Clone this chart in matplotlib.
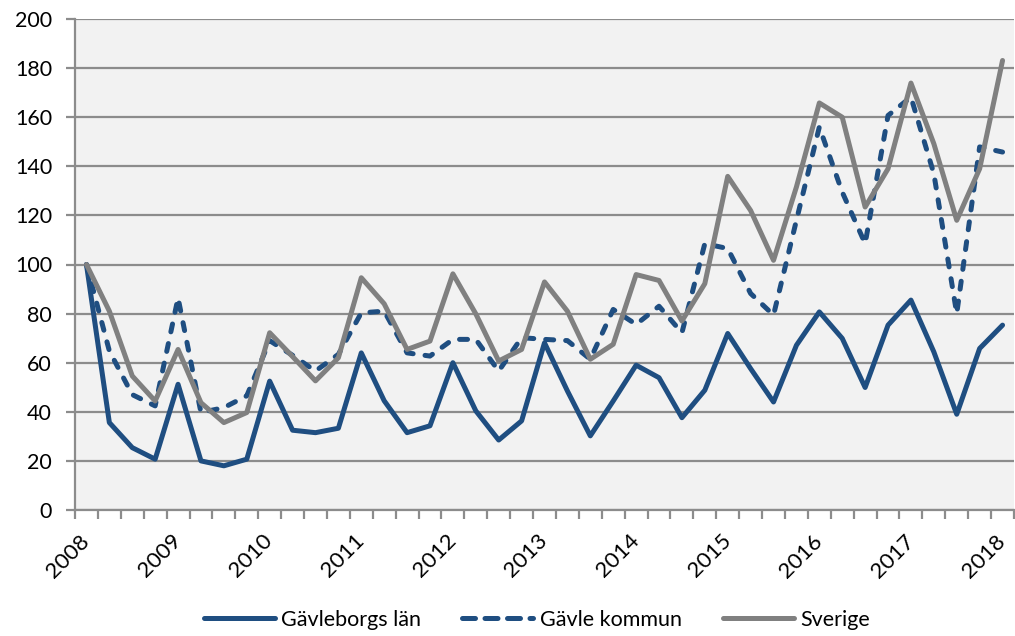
import numpy as np
import matplotlib
matplotlib.use('Agg')
from matplotlib import pyplot as plt
from matplotlib.lines import Line2D

plt.rcParams['font.family'] = ['Lato', 'DejaVu Sans']

# index values per quarter, 2008 K1 .. 2018 K1
years = ['2008', '2009', '2010', '2011', '2012', '2013', '2014', '2015', '2016', '2017', '2018']
lan = [100, 35.6, 25.4, 20.7, 51.2, 20, 18, 20.7, 52.5, 32.5, 31.5, 33.3, 64, 44.5, 31.5, 34.3,
       60, 40.4, 28.5, 36.3, 68.1, 48.5, 30.2, 44.4, 59, 53.9, 37.6, 48.8, 71.9, 57.6, 44, 67.1,
       80.7, 69.9, 49.9, 75.3, 85.5, 64.4, 39, 65.8, 75.3]
kommun = [100, 64.8, 47, 42.4, 86.4, 39.7, 41.7, 46.5, 69, 63, 56.6, 63.4, 80.3, 81, 64, 62.7,
          69.5, 69.5, 56.6, 70.2, 69.5, 69, 61.4, 81.7, 75.6, 83, 72.2, 108.5, 106.5, 88.2, 79.4, 118,
          156, 129.5, 108.5, 160.7, 168.2, 137, 80, 147.9, 145.8]
sverige = [100, 81, 54.6, 44.4, 65.4, 43.7, 35.6, 39.7, 72.2, 62.5, 52.6, 62, 94.6, 84, 65.4, 68.8,
           96.2, 79.9, 60.7, 65.4, 92.9, 81, 61.4, 67.5, 95.9, 93.5, 77, 92.2, 135.9, 122, 101.7, 131.6,
           165.8, 160, 123.4, 139, 173.9, 149.2, 118, 139, 183.1]
names = ['Gävleborgs län', 'Gävle kommun', 'Sverige']

blue = '#1f4e81'
grey = '#808080'
gridc = '#8c8c8c'

W, H = 1015, 636
fig = plt.figure(figsize=(W / 100, H / 100), dpi=100)
ax = fig.add_axes([75 / W, (H - 510) / H, (1014 - 75) / W, (510 - 19) / H])
ax.set_facecolor('#f2f2f2')

x = np.arange(len(lan))
lw = 3.6
ax.plot(x, lan, color=blue, lw=lw, solid_capstyle='round', solid_joinstyle='round', zorder=3)
ax.plot(x, kommun, color=blue, lw=lw, dashes=(1.6, 2.4), dash_capstyle='round',
        dash_joinstyle='round', zorder=3)
ax.plot(x, sverige, color=grey, lw=lw, solid_capstyle='round', solid_joinstyle='round', zorder=4)

ax.set_xlim(-0.5, len(lan) - 0.5)
ax.set_ylim(0, 200)
ax.set_yticks(np.arange(0, 201, 20))
ax.yaxis.grid(True, color=gridc, lw=1.6)
ax.set_axisbelow(True)

# year label on every 4th quarter, tick marks between quarters
ax.set_xticks(np.arange(0, len(lan), 4))
ax.set_xticklabels(years, rotation=45, ha='right', va='center', rotation_mode='anchor')
ax.set_xticks(np.arange(-0.5, len(lan), 1), minor=True)
ax.tick_params(axis='x', which='major', length=0, pad=20, labelsize=16)
ax.tick_params(axis='x', which='minor', length=6.5, width=1.6, color=gridc, direction='out')
ax.tick_params(axis='y', length=6.5, width=1.6, color=gridc, pad=10, labelsize=15.5)

for s in ['top', 'right']:
    ax.spines[s].set_visible(False)
for s in ['left', 'bottom']:
    ax.spines[s].set_color(gridc)
    ax.spines[s].set_linewidth(1.6)

handles = [Line2D([], [], color=blue, lw=lw, solid_capstyle='round'),
           Line2D([], [], color=blue, lw=lw, dashes=(2.6, 1.9), dash_capstyle='round'),
           Line2D([], [], color=grey, lw=lw, solid_capstyle='round')]
fig.legend(handles, names, loc='center', bbox_to_anchor=(537 / W, 1 - 620 / H), ncol=3,
           frameon=False, fontsize=15.5, handlelength=3.3, handletextpad=0.3, columnspacing=1.9)

fig.savefig('out.png', dpi=100)
